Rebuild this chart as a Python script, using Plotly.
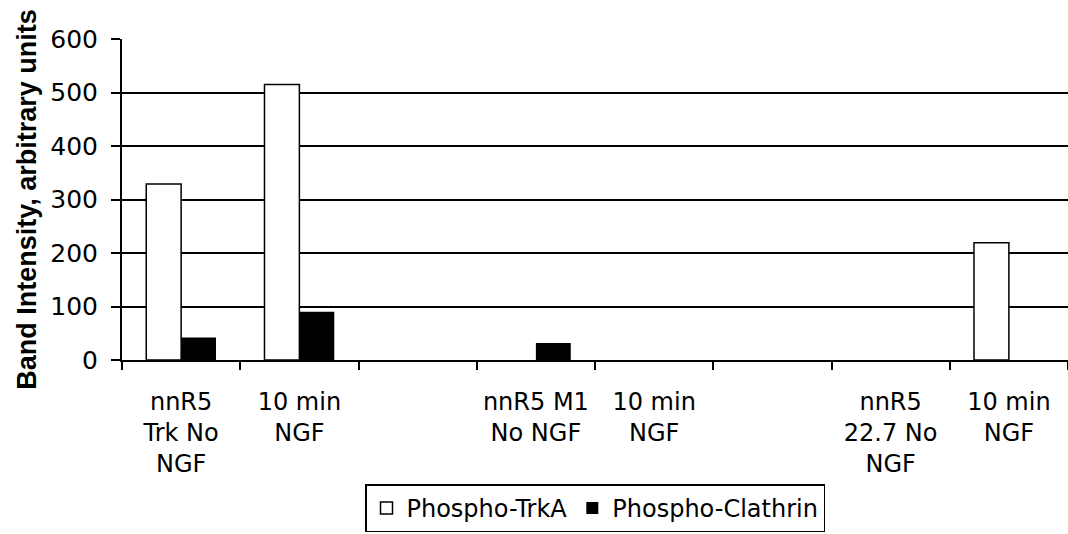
import plotly.graph_objects as go

# Cell lines / treatments along the x axis (blank slots separate the three cell lines)
category_keys = ["trk_none", "trk_10", "gap_a", "m1_none", "m1_10", "gap_b", "c227_none", "c227_10"]
category_labels = [
    "nnR5<br>Trk No<br>NGF",
    "10 min<br>NGF",
    "",
    "nnR5 M1<br>No NGF",
    "10 min<br>NGF",
    "",
    "nnR5<br>22.7 No<br>NGF",
    "10 min<br>NGF",
]

# Band intensities (arbitrary units)
phospho_trka = [329, 515, 0, 0, 0, 0, 0, 219]
phospho_clathrin = [42, 90, 0, 32, 0, 0, 0, 0]

y_ticks = [0, 100, 200, 300, 400, 500, 600]
grid_values = [100, 200, 300, 400, 500]

FONT = "DejaVu Sans"
TITLE_FONT = "Liberation Sans Narrow, Liberation Sans, sans-serif"
BARGAP = 0.41

# outline only the bars that actually rise above the baseline
trka_outline = [1.5 if v > 0 else 0 for v in phospho_trka]

fig = go.Figure()
fig.add_trace(go.Bar(
    x=category_keys, y=phospho_trka, name="Phospho-TrkA",
    marker=dict(color="white", line=dict(color="black", width=trka_outline)),
))
fig.add_trace(go.Bar(
    x=category_keys, y=phospho_clathrin, name="Phospho-Clathrin",
    marker=dict(color="black", line=dict(color="black", width=0)),
))
# invisible trace on an overlaying axis that carries the horizontal gridlines
fig.add_trace(go.Scatter(x=category_keys, y=[None] * len(category_keys), yaxis="y2",
                         showlegend=False, hoverinfo="skip"))

fig.update_layout(
    width=1068, height=534,
    margin=dict(l=122, r=0, t=39, b=174),
    paper_bgcolor="white", plot_bgcolor="white",
    barmode="group", bargap=BARGAP, bargroupgap=0,
    font=dict(family=FONT, size=24, color="black"),
    showlegend=True,
    legend=dict(
        orientation="h", xref="paper", x=0.5, xanchor="center",
        yref="container", y=0.003, yanchor="bottom",
        bordercolor="black", borderwidth=1.5, font=dict(size=24),
        itemwidth=30, tracegroupgap=0,
    ),
    xaxis=dict(
        type="category", categoryorder="array", categoryarray=category_keys,
        tickmode="array", tickvals=category_keys, ticktext=category_labels,
        tickson="boundaries", ticks="outside", ticklen=8, tickwidth=1.5, tickcolor="black",
        showline=True, linecolor="black", linewidth=2, showgrid=False,
        tickfont=dict(size=24), ticklabelstandoff=19, automargin=False,
    ),
    yaxis=dict(
        range=[0, 600], tickmode="array", tickvals=y_ticks,
        ticks="outside", ticklen=9, tickwidth=1.5, tickcolor="black",
        showline=True, linecolor="black", linewidth=2, showgrid=False, zeroline=False,
        tickfont=dict(size=25), ticklabelstandoff=8, automargin=False,
        title=dict(text="<b>Band Intensity, arbitrary units</b>",
                   font=dict(size=27, family=TITLE_FONT), standoff=6),
    ),
    yaxis2=dict(
        overlaying="y", range=[0, 600], tickmode="array", tickvals=grid_values,
        showgrid=True, gridcolor="black", gridwidth=1.5, showticklabels=False,
        ticks="", zeroline=False, showline=False,
    ),
)

fig.write_html("out.html")
